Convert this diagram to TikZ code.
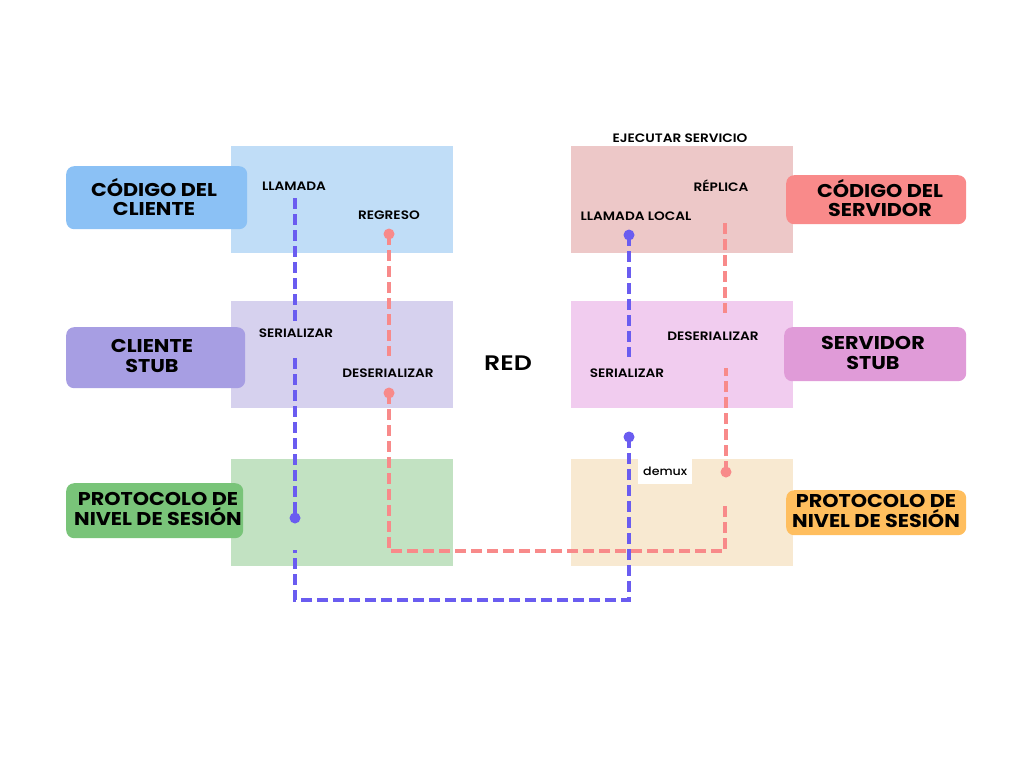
\documentclass[tikz,border=0pt]{standalone}
\usepackage{fontspec}
\setmainfont{Poppins}[FakeStretch=1.12]
\newfontfamily\medfont{Poppins SemiBold}[FakeStretch=1.12]
\newfontfamily\redfont{Poppins SemiBold}[FakeStretch=1.2]
\newfontfamily\regfont{Poppins Medium}[FakeStretch=1.1]
\definecolor{bcode}{HTML}{C0DDF7}
\definecolor{bstub}{HTML}{D6D1EE}
\definecolor{bsess}{HTML}{C2E2C2}
\definecolor{scode}{HTML}{EDC8C8}
\definecolor{sstub}{HTML}{F1CCEF}
\definecolor{ssess}{HTML}{F8E9D1}
\definecolor{lcode}{HTML}{8BC1F5}
\definecolor{lstub}{HTML}{A79EE3}
\definecolor{lsess}{HTML}{79C479}
\definecolor{rcode}{HTML}{F98A8A}
\definecolor{rstub}{HTML}{E09BD8}
\definecolor{rsess}{HTML}{FFBE5E}
\definecolor{bline}{HTML}{6A5CF0}
\definecolor{pline}{HTML}{F88A8A}
\begin{document}
\begin{tikzpicture}[x=1pt,y=-1pt,
  layer/.style={draw=none,inner sep=0pt,anchor=north west,minimum width=222pt,minimum height=107pt},
  tag/.style={rounded corners=8pt,inner sep=0pt,anchor=north west},
  tagtext/.style={align=center,inner sep=0pt,font=\bfseries\fontsize{18.5}{19.5}\selectfont},
  lbl/.style={font=\medfont\fontsize{12.2}{13}\selectfont,inner sep=0pt},
  bdash/.style={draw=bline,line width=4pt,dash pattern=on 11pt off 5pt},
  pdash/.style={draw=pline,line width=4pt,dash pattern=on 11pt off 5pt},
  bdot/.style={circle,fill=bline,minimum size=11pt,inner sep=0pt},
  pdot/.style={circle,fill=pline,minimum size=11pt,inner sep=0pt}]
\useasboundingbox (0,0) rectangle (1024,768);
% layer boxes
\node[layer,fill=bcode] (cc) at (231,146) {};
\node[layer,fill=bstub] (cs) at (231,301) {};
\node[layer,fill=bsess] (cp) at (231,459) {};
\node[layer,fill=scode] (sc) at (571,146) {};
\node[layer,fill=sstub] (ss) at (571,301) {};
\node[layer,fill=ssess] (sp) at (571,459) {};
% tags
\node[tag,fill=lcode,minimum width=181pt,minimum height=63pt] (tcc) at (66,166) {};
\node[tagtext] (xcc) at (154,197) {CÓDIGO DEL\\CLIENTE};
\node[tag,fill=lstub,minimum width=179pt,minimum height=61pt] (tcs) at (66,327) {};
\node[tagtext] (xcs) at (152,356) {CLIENTE\\STUB};
\node[tag,fill=lsess,minimum width=177pt,minimum height=55pt] (tcp) at (66,483) {};
\node[tagtext] (xcp) at (158,509) {PROTOCOLO DE\\NIVEL DE SESIÓN};
\node[tag,fill=rcode,minimum width=180pt,minimum height=49pt] (tsc) at (786,175) {};
\node[tagtext] (xsc) at (880,198) {CÓDIGO DEL\\SERVIDOR};
\node[tag,fill=rstub,minimum width=182pt,minimum height=54pt] (tss) at (784,327) {};
\node[tagtext] (xss) at (873,353) {SERVIDOR\\STUB};
\node[tag,fill=rsess,minimum width=180pt,minimum height=45pt] (tsp) at (786,490) {};
\node[tagtext] (xsp) at (876,511) {PROTOCOLO DE\\NIVEL DE SESIÓN};
% small labels
\node[lbl] (llamada) at (294,186) {LLAMADA};
\node[lbl] (regreso) at (389,215) {REGRESO};
\node[lbl] (ser1) at (296,333) {SERIALIZAR};
\node[lbl] (des1) at (388,373) {DESERIALIZAR};
\node[lbl] (ejec) at (680,138) {EJECUTAR SERVICIO};
\node[lbl] (replica) at (721,186) {RÉPLICA};
\node[lbl] (llocal) at (636,216) {LLAMADA LOCAL};
\node[lbl] (des2) at (713,336) {DESERIALIZAR};
\node[lbl] (ser2) at (627,373) {SERIALIZAR};
\node[font=\redfont\fontsize{21}{24}\selectfont,inner sep=0pt] (red) at (508,363) {RED};
\node[fill=white,minimum width=54pt,minimum height=25pt,inner sep=0pt,anchor=north west,
  font=\regfont\fontsize{11.5}{13}\selectfont] (demux) at (638,459) {demux};
% coordinates
\coordinate (b1a) at (295,198); \coordinate (b1b) at (295,322);
\coordinate (b2a) at (295,358); \coordinate (b2b) at (295,518);
\coordinate (b3a) at (295,550); \coordinate (b3c) at (295,600);
\coordinate (b3d) at (629,600); \coordinate (b3e) at (629,437);
\coordinate (b4a) at (629,235); \coordinate (b4b) at (629,357);
\coordinate (p1a) at (389,234); \coordinate (p1b) at (389,356);
\coordinate (p2a) at (389,393); \coordinate (p2c) at (389,551);
\coordinate (p2d) at (725,551); \coordinate (p2e) at (725,506);
\coordinate (p3a) at (726,472); \coordinate (p3b) at (726,368);
\coordinate (p4a) at (725,223); \coordinate (p4b) at (725,313);
% lines
\draw[bdash] (b1a) -- (b1b);
\draw[bdash] (b2a) -- (b2b);
\draw[bdash] (b3e) -- (b3d) -- (b3c) -- (b3a);
\draw[bdash] (b4a) -- (b4b);
\draw[pdash] (p1a) -- (p1b);
\draw[pdash] (p2a) -- (p2c) -- (p2d) -- (p2e);
\draw[pdash] (p3a) -- (p3b);
\draw[pdash] (p4a) -- (p4b);
% dots
\node[bdot] (d1) at (b2b) {};
\node[bdot] (d2) at (b3e) {};
\node[bdot] (d3) at (b4a) {};
\node[pdot] (d4) at (p1a) {};
\node[pdot] (d5) at (p2a) {};
\node[pdot] (d6) at (p3a) {};
\end{tikzpicture}
\end{document}
